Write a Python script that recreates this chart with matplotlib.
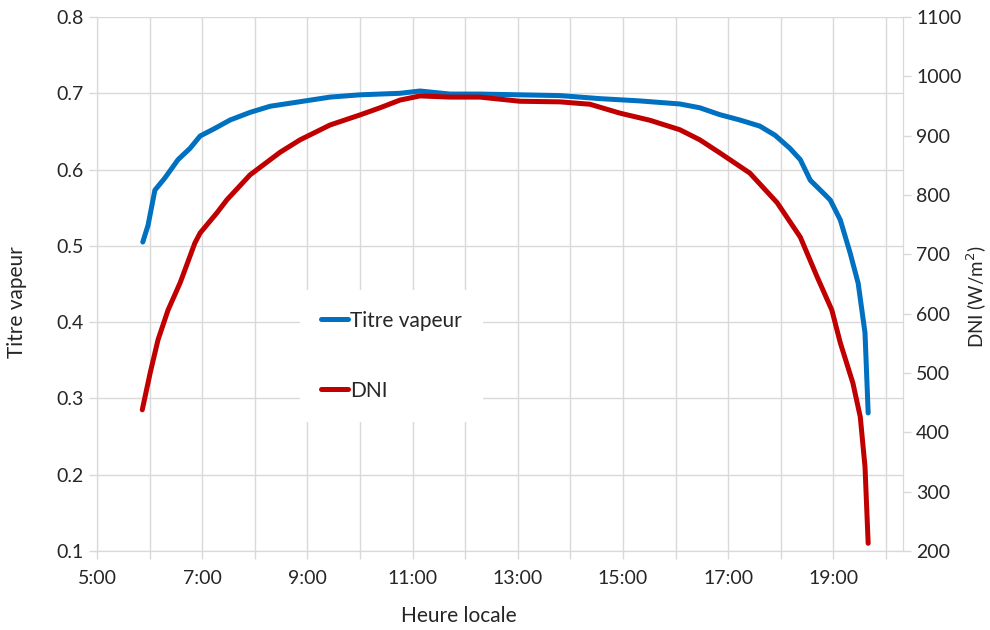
#!/usr/bin/env python3

import matplotlib
matplotlib.use("Agg")
import matplotlib.pyplot as plt
from matplotlib.ticker import FixedLocator, FuncFormatter

plt.rcParams['font.family'] = ['Lato', 'DejaVu Sans']

# heure locale (h), titre vapeur
heure_titre = [5.87, 5.97, 6.10, 6.29, 6.54, 6.77, 6.96, 7.24, 7.53, 7.91, 8.29,
               8.86, 9.43, 10.00, 10.76, 11.14, 11.71, 12.28, 13.04, 13.80,
               14.56, 15.32, 16.08, 16.46, 16.84, 17.22, 17.60, 17.89, 18.17,
               18.37, 18.56, 18.84, 18.94, 19.13, 19.32, 19.47, 19.60, 19.66]
titre = [0.505, 0.527, 0.573, 0.589, 0.613, 0.628, 0.644, 0.654, 0.665, 0.675,
         0.683, 0.689, 0.695, 0.698, 0.700, 0.703, 0.699, 0.699, 0.698, 0.697,
         0.693, 0.690, 0.686, 0.681, 0.672, 0.665, 0.657, 0.645, 0.628, 0.613,
         0.586, 0.567, 0.560, 0.534, 0.490, 0.451, 0.386, 0.281]

# heure locale (h), DNI (W/m2)
heure_dni = [5.86, 6.01, 6.16, 6.35, 6.58, 6.86, 6.96, 7.28, 7.47, 7.91, 8.48,
             8.86, 9.43, 10.00, 10.38, 10.76, 11.14, 11.71, 12.28, 13.04,
             13.80, 14.37, 14.94, 15.51, 16.08, 16.46, 16.84, 17.41, 17.93,
             18.37, 18.69, 18.97, 19.13, 19.37, 19.51, 19.60, 19.66]
dni = [438, 500, 556, 606, 652, 719, 736, 770, 792, 834, 872, 893, 918, 935,
       947, 960, 967, 965, 965, 958, 957, 953, 938, 926, 910, 893, 871, 837,
       787, 729, 662, 606, 551, 483, 426, 342, 213]

heures = list(range(5, 21))
heures_labels = list(range(5, 21, 2))

fig = plt.figure(figsize=(9.9, 6.3), dpi=100)
ax = fig.add_axes([0.098, 0.1254, 0.814, 0.8476])
ax2 = ax.twinx()

grid_col = '#d9d9d9'
txt_col = '#262626'

l1, = ax.plot(heure_titre, titre, color='#0070c0', lw=3.6, solid_capstyle='round',
              label='Titre vapeur', zorder=3)
l2, = ax2.plot(heure_dni, dni, color='#c00000', lw=3.6, solid_capstyle='round',
               label='DNI', zorder=3)

ax.set_xlim(5, 20.32)
ax.set_ylim(0.1, 0.8)
ax2.set_ylim(200, 1100)
ax.set_yticks([0.1, 0.2, 0.3, 0.4, 0.5, 0.6, 0.7, 0.8])
ax2.set_yticks(range(200, 1101, 100))

ax.xaxis.set_major_locator(FixedLocator(heures_labels))
ax.xaxis.set_minor_locator(FixedLocator(heures))
ax.xaxis.set_major_formatter(FuncFormatter(lambda v, p: '%d:00' % v))
ax.yaxis.set_major_formatter(FuncFormatter(lambda v, p: '%.1f' % v))

ax.grid(True, which='both', axis='x', color=grid_col, lw=1)
ax.grid(True, which='major', axis='y', color=grid_col, lw=1)
ax.set_axisbelow(True)

for a in (ax, ax2):
    for s in a.spines.values():
        s.set_color(grid_col)
    a.spines['top'].set_visible(False)
    a.tick_params(colors=grid_col, labelcolor=txt_col, labelsize=14,
                  length=6, width=1, direction='out')
ax.tick_params(axis='x', which='minor', length=6, color=grid_col, width=1)
ax.tick_params(axis='x', which='major', pad=8)

ax.set_xlabel('Heure locale', fontsize=15, color=txt_col)
ax.xaxis.set_label_coords(0.449, -0.103)
ax.set_ylabel('Titre vapeur', fontsize=15, color=txt_col)
ax.yaxis.set_label_coords(-0.087, 0.466)
ax2.set_ylabel('DNI (W/m$^2$)', fontsize=13.5, color=txt_col)
ax2.yaxis.set_label_coords(1.077, 0.476)

leg = ax2.legend(handles=[l1, l2], loc='upper left', bbox_to_anchor=(0.252, 0.489),
                 frameon=True, fancybox=False, facecolor='white', edgecolor='none',
                 framealpha=1, fontsize=15, handlelength=1.3, handletextpad=0.1,
                 labelspacing=2.4, borderpad=1.0, borderaxespad=0)
for t in leg.get_texts():
    t.set_color(txt_col)

fig.savefig('out.png', dpi=100)
